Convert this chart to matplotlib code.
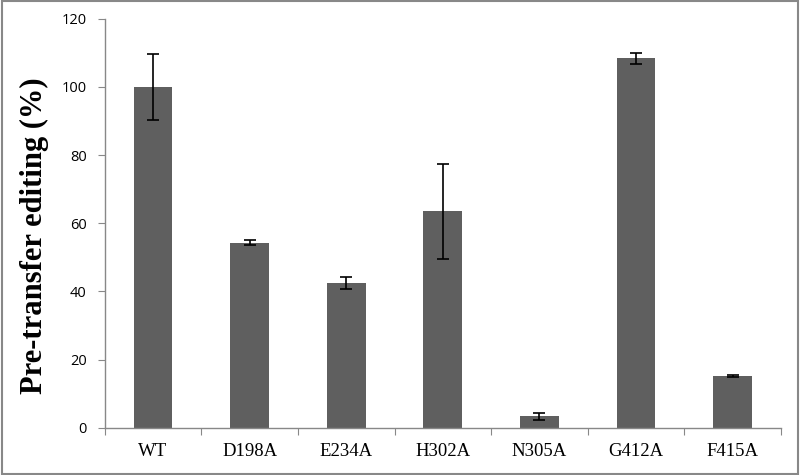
import matplotlib
matplotlib.use("Agg")
import matplotlib.pyplot as plt
import numpy as np

categories = ["WT", "D198A", "E234A", "H302A", "N305A", "G412A", "F415A"]
values = [100.0, 54.3, 42.5, 63.5, 3.4, 108.3, 15.2]
errors = [9.7, 0.8, 1.7, 14.0, 1.0, 1.5, 0.3]
yticks = [0, 20, 40, 60, 80, 100, 120]

fig = plt.figure(figsize=(8, 4.75), dpi=100)
ax = fig.add_axes([0.131, 0.099, 0.845, 0.862])

x = np.arange(len(categories))
ax.bar(x, values, width=0.4, color="#5f5f5f", zorder=2)
ax.errorbar(x, values, yerr=errors, fmt="none", ecolor="black",
            elinewidth=1.2, capsize=4, capthick=1.2, zorder=3)

ax.set_xlim(-0.5, len(categories) - 0.5)
ax.set_ylim(0, 120)
ax.set_yticks(yticks)
ax.set_yticklabels([str(t) for t in yticks], fontfamily="Open Sans", fontsize=10.5)

ax.set_xticks(np.arange(len(categories) + 1) - 0.5)
ax.set_xticklabels([])
ax.set_xticks(x, minor=True)
ax.set_xticklabels(categories, minor=True, fontfamily="Liberation Serif", fontsize=13.5)
ax.tick_params(axis="x", which="major", length=5, color="#888888", direction="out")
ax.tick_params(axis="x", which="minor", length=0, pad=11)
ax.tick_params(axis="y", length=5, color="#888888", direction="out", pad=8)

for s in ["top", "right"]:
    ax.spines[s].set_visible(False)
for s in ["left", "bottom"]:
    ax.spines[s].set_color("#888888")
    ax.spines[s].set_linewidth(1.0)

ax.set_ylabel("Pre-transfer editing (%)", fontfamily="Liberation Serif",
              fontweight="bold", fontsize=22, labelpad=9)
ax.yaxis.label.set_y(0.47)

border = plt.Rectangle((0.002, 0.003), 0.996, 0.994, transform=fig.transFigure,
                       fill=False, edgecolor="#888888", linewidth=1.5)
fig.patches.append(border)

fig.savefig("out.png", dpi=100)
